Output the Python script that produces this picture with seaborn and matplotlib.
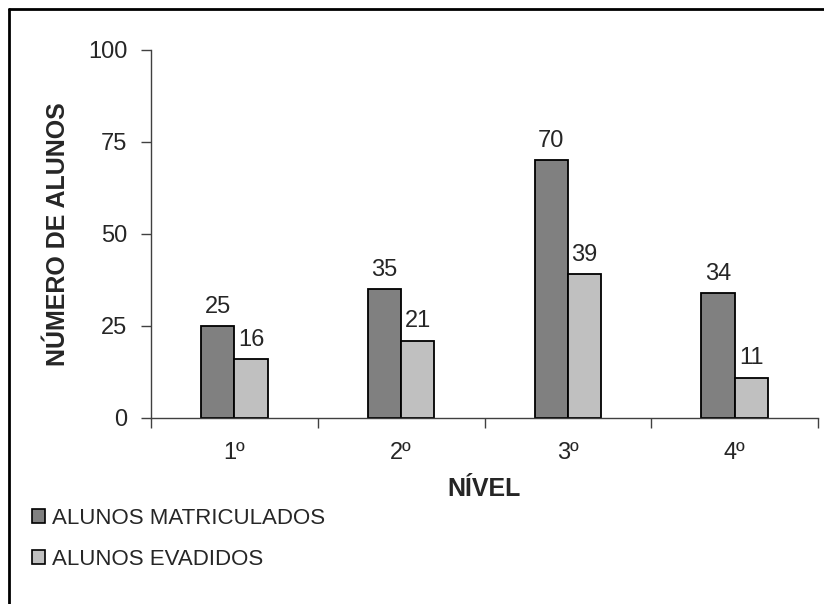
import pandas as pd
import numpy as np
import matplotlib.pyplot as plt
import seaborn as sns
from matplotlib.patches import Patch
from matplotlib.lines import Line2D

niveis = ['1º', '2º', '3º', '4º']
matriculados = [25, 35, 70, 34]
evadidos = [16, 21, 39, 11]
series = ['ALUNOS MATRICULADOS', 'ALUNOS EVADIDOS']
cores = ['#808080', '#C0C0C0']

df = pd.DataFrame({
    'nivel': niveis * 2,
    'valor': matriculados + evadidos,
    'serie': [series[0]] * 4 + [series[1]] * 4,
})

sns.set_style('white')
plt.rcParams['font.family'] = ['Liberation Sans', 'DejaVu Sans']

fig = plt.figure(figsize=(8.24, 6.04), dpi=100)
ax = fig.add_axes([151/824, 1 - 418/604, 667/824, 368/604])

sns.barplot(data=df, x='nivel', y='valor', hue='serie', palette=cores,
            width=0.4, edgecolor='black', linewidth=1.3, saturation=1,
            legend=False, ax=ax)

for c in ax.containers:
    ax.bar_label(c, fontsize=17, padding=6)

ax.set_ylim(0, 100)
ax.set_xlim(-0.5, 3.5)
ax.set_yticks([0, 25, 50, 75, 100])
ax.tick_params(axis='y', labelsize=17, length=7, width=1, color='#404040',
               direction='out', left=True, pad=10)
ax.set_xticks(np.arange(-0.5, 4, 1), minor=True)
ax.tick_params(axis='x', which='major', length=0, labelsize=17, pad=17)
ax.tick_params(axis='x', which='minor', length=7, width=1, color='#404040',
               direction='out', bottom=True)

for s in ['top', 'right']:
    ax.spines[s].set_visible(False)
for s in ['left', 'bottom']:
    ax.spines[s].set_color('#404040')
    ax.spines[s].set_linewidth(1)

ax.set_ylabel('NÚMERO DE ALUNOS', fontsize=18, fontweight='bold', labelpad=13)
ax.set_xlabel('NÍVEL', fontsize=18, fontweight='bold', labelpad=10)

handles = [Patch(facecolor=cores[i], edgecolor='black', linewidth=1.2) for i in range(2)]
fig.legend(handles, series, loc='upper left', bbox_to_anchor=(32/824, 1 - 508/604),
           frameon=False, fontsize=16, handlelength=0.6, handleheight=0.6,
           handletextpad=0.32, labelspacing=0.9, borderaxespad=0, borderpad=0)

# moldura da figura (só topo e esquerda visíveis)
fig.add_artist(Line2D([9/824, 9/824], [0, 1 - 9/604], color='black', lw=2,
                      transform=fig.transFigure))
fig.add_artist(Line2D([9/824, 1], [1 - 9/604, 1 - 9/604], color='black', lw=2,
                      transform=fig.transFigure))

fig.savefig('out.png', dpi=100)
